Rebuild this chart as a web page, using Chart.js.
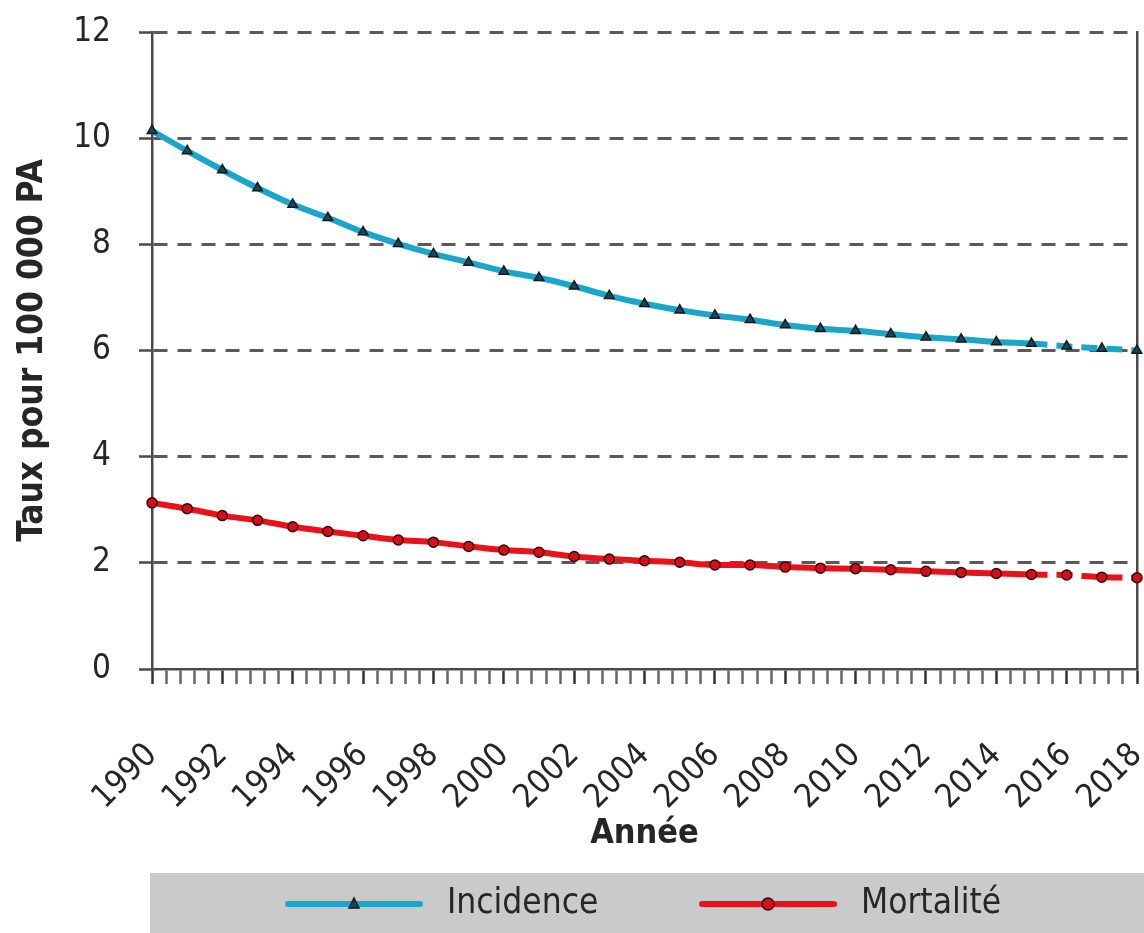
<!DOCTYPE html>
<html lang="fr">
<head>
<meta charset="utf-8">
<title>Incidence et mortalité</title>
<script src="https://cdn.jsdelivr.net/npm/chart.js@4.4.1/dist/chart.umd.min.js"></script>
<style>
  html, body { margin: 0; padding: 0; background: #fff; }
  #wrap { position: relative; width: 1144px; height: 933px; }
</style>
</head>
<body>
<div id="wrap"><canvas id="chart"></canvas></div>
<script>
const years = [1990, 1991, 1992, 1993, 1994, 1995, 1996, 1997, 1998, 1999,
               2000, 2001, 2002, 2003, 2004, 2005, 2006, 2007, 2008, 2009,
               2010, 2011, 2012, 2013, 2014, 2015, 2016, 2017, 2018];
const incidence = [10.14, 9.76, 9.40, 9.06, 8.75, 8.50, 8.23, 8.01, 7.82, 7.66,
                   7.49, 7.37, 7.21, 7.03, 6.88, 6.76, 6.66, 6.58, 6.48, 6.41,
                   6.37, 6.31, 6.25, 6.21, 6.16, 6.13, 6.08, 6.04, 6.00];
const mortalite = [3.13, 3.02, 2.89, 2.80, 2.68, 2.59, 2.51, 2.43, 2.39, 2.31,
                   2.24, 2.20, 2.12, 2.07, 2.04, 2.01, 1.96, 1.96, 1.92, 1.90,
                   1.89, 1.87, 1.84, 1.82, 1.80, 1.78, 1.77, 1.73, 1.72];
const xTickLabels = ['1990', '1992', '1994', '1996', '1998', '2000', '2002', '2004',
                     '2006', '2008', '2010', '2012', '2014', '2016', '2018'];
const minorStep = 0.4;          // small tick marks along the x axis
const projectionFrom = 2015;    // dashed part of both curves

const FONT = "'Liberation Sans Narrow', 'Arial Narrow', 'DejaVu Sans Condensed', sans-serif";
const CYAN = '#1ba5c8';
const RED = '#e8121b';
const AXIS = '#4a4a4a';
const TEXT = '#262626';

function points(vals) {
  return years.map((y, i) => ({ x: y, y: vals[i] }));
}
const dashedAfter = ctx => ctx.p0.parsed.x >= projectionFrom ? [16, 9] : undefined;

// grey band with the two legend entries under the plot
const legendBand = {
  id: 'legendBand',
  afterDraw(chart) {
    const ctx = chart.ctx;
    const top = 873, h = 60, left = 150;
    ctx.save();
    ctx.fillStyle = '#c9cacc';
    ctx.fillRect(left, top, chart.width - left, h);
    const cy = top + h / 2 + 1;
    const spots = [{ x: 288, textX: 447 }, { x: 702, textX: 861 }];
    chart.data.datasets.forEach((ds, i) => {
      const s = spots[i];
      ctx.strokeStyle = ds.borderColor;
      ctx.lineWidth = 6;
      ctx.lineCap = 'round';
      ctx.beginPath();
      ctx.moveTo(s.x, cy);
      ctx.lineTo(s.x + 132, cy);
      ctx.stroke();
      const mx = s.x + 66;
      ctx.fillStyle = ds.pointBackgroundColor;
      ctx.strokeStyle = ds.pointBorderColor;
      ctx.lineWidth = 1.5;
      ctx.beginPath();
      if (ds.pointStyle === 'triangle') {
        ctx.moveTo(mx, cy - 6);
        ctx.lineTo(mx - 5, cy + 4);
        ctx.lineTo(mx + 5, cy + 4);
        ctx.closePath();
      } else {
        ctx.arc(mx, cy, 6, 0, Math.PI * 2);
      }
      ctx.fill();
      ctx.stroke();
      ctx.fillStyle = TEXT;
      ctx.font = '35px ' + FONT;
      ctx.textBaseline = 'middle';
      ctx.textAlign = 'left';
      ctx.fillText(ds.label, s.textX, cy);
    });
    ctx.restore();
  }
};

new Chart(document.getElementById('chart'), {
  type: 'line',
  data: {
    datasets: [
      {
        label: 'Incidence',
        data: points(incidence),
        borderColor: CYAN,
        backgroundColor: CYAN,
        borderWidth: 6,
        pointStyle: 'triangle',
        pointRadius: 5.5,
        pointBackgroundColor: '#1d4756',
        pointBorderColor: '#0b1c22',
        pointBorderWidth: 1.5,
        cubicInterpolationMode: 'monotone',
        segment: { borderDash: dashedAfter },
        clip: false
      },
      {
        label: 'Mortalité',
        data: points(mortalite),
        borderColor: RED,
        backgroundColor: RED,
        borderWidth: 6,
        pointStyle: 'circle',
        pointRadius: 5,
        pointBackgroundColor: '#d0101a',
        pointBorderColor: '#3e0000',
        pointBorderWidth: 1.5,
        cubicInterpolationMode: 'monotone',
        segment: { borderDash: dashedAfter },
        clip: false
      }
    ]
  },
  options: {
    responsive: true,
    maintainAspectRatio: false,
    animation: false,
    layout: { padding: { top: 32, right: 6, bottom: 74, left: 0 } },
    plugins: {
      legend: { display: false },
      tooltip: { enabled: false }
    },
    scales: {
      x: {
        type: 'linear',
        min: years[0],
        max: years[years.length - 1],
        afterBuildTicks: axis => {
          const n = Math.round((axis.max - axis.min) / minorStep);
          axis.ticks = Array.from({ length: n + 1 }, (_, i) => ({ value: +(axis.min + i * minorStep).toFixed(1) }));
        },
        afterFit: axis => {
          axis.height = 190;
          axis.paddingLeft = 0;
          axis.paddingRight = 0;
        },
        ticks: {
          autoSkip: false,
          minRotation: 45,
          maxRotation: 45,
          padding: 52,
          color: TEXT,
          font: { family: FONT, size: 33 },
          callback: v => {
            const r = Math.round(v);
            return Math.abs(v - r) < 1e-6 && xTickLabels.includes(String(r)) ? String(r) : '';
          }
        },
        grid: {
          drawOnChartArea: false,
          drawTicks: true,
          tickLength: 15,
          tickWidth: 2.5,
          tickColor: c => c.tick && c.tick.label ? '#333' : '#666'
        },
        border: { color: AXIS, width: 2.5 },
        title: {
          display: true,
          text: 'Année',
          color: TEXT,
          font: { family: FONT, size: 34, weight: 'bold' },
          padding: { top: 0, bottom: 4 }
        }
      },
      y: {
        type: 'linear',
        min: 0,
        max: 12,
        afterFit: axis => {
          axis.width = 152;
          axis.paddingTop = 0;
          axis.paddingBottom = 0;
        },
        ticks: {
          stepSize: 2,
          padding: 28,
          color: TEXT,
          font: { family: FONT, size: 33 }
        },
        grid: {
          color: c => c.tick && c.tick.value === 0 ? 'rgba(0,0,0,0)' : '#5a5a5a',
          lineWidth: 3,
          tickLength: 13,
          tickWidth: 2.5,
          tickColor: AXIS,
          tickBorderDash: []
        },
        border: { color: AXIS, width: 2.5, dash: [14, 10], dashOffset: 0 },
        title: {
          display: true,
          text: 'Taux pour 100 000 PA',
          color: TEXT,
          font: { family: FONT, size: 35, weight: 'bold' },
          padding: { top: 12, bottom: 4 }
        }
      },
      yR: {
        type: 'linear',
        position: 'right',
        min: 0,
        max: 12,
        afterFit: axis => {
          axis.width = 0;
          axis.paddingTop = 0;
          axis.paddingBottom = 0;
        },
        ticks: { display: false },
        grid: { display: false },
        border: { display: true, color: AXIS, width: 2.5 }
      }
    }
  },
  plugins: [legendBand]
});
</script>
</body>
</html>
